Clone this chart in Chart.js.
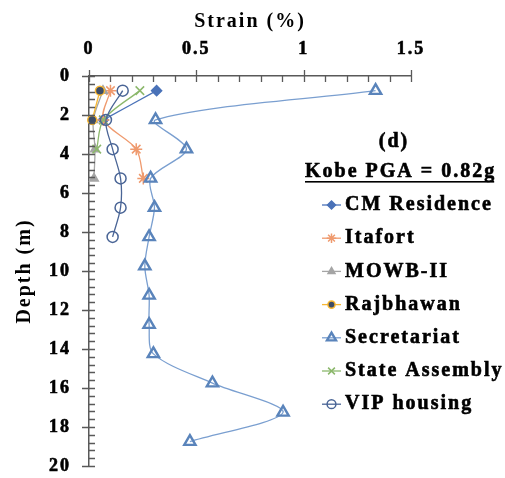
<!DOCTYPE html>
<html>
<head>
<meta charset="utf-8">
<title>Strain vs depth</title>
<script src="https://cdn.jsdelivr.net/npm/chart.js@4.4.1/dist/chart.umd.min.js"></script>
<style>
  html, body { margin: 0; padding: 0; background: #fff; }
  #wrap { width: 505px; height: 478px; }
</style>
</head>
<body>
<div id="wrap"><canvas id="strainChart" width="505" height="478"></canvas></div>
<script>
// ========== DATA ==========
// depth of each sublayer mid-point (m)
const depths = [0.75, 2.25, 3.75, 5.25, 6.75, 8.25, 9.75, 11.25, 12.75, 14.25, 15.75, 17.25, 18.75];

// peak strain (%) per site, top layer first
const cmResidence = [0.315, 0.067];
const itafort = [0.10, 0.067, 0.22, 0.253];
const mowb2 = [0.065, 0.02, 0.028, 0.023];
const rajbhawan = [0.051, 0.015];
const secretariat = [1.335, 0.31, 0.454, 0.287, 0.305, 0.28, 0.26, 0.28, 0.28, 0.30, 0.575, 0.904, 0.47];
const stateAssembly = [0.237, 0.067, 0.036];
const vipHousing = [0.157, 0.079, 0.11, 0.147, 0.147, 0.11];

const strainTicks = [0, 0.5, 1, 1.5];
const depthTicks = [0, 2, 4, 6, 8, 10, 12, 14, 16, 18, 20];

const chartHeading = "(d)";
const chartSubheading = "Kobe PGA = 0.82g";

// ========== STYLE ==========
const FONT = "'Liberation Serif', 'Times New Roman', serif";
const AXIS_COLOR = "#595959";
const TEXT_STROKE = 0.6; // thickens the bold serif a bit

const toPoints = (values) => values.map((v, i) => ({ x: v, y: depths[i] }));

const makeSeries = (label, values, style) => ({
  label,
  data: toPoints(values),
  showLine: true,
  tension: 0.3,
  borderWidth: 1.3,
  pointBorderWidth: 1.5,
  pointRadius: 5,
  clip: false,
  ...style,
});

const datasets = [
  makeSeries("CM Residence", cmResidence, {
    borderColor: "#4a72b8", backgroundColor: "#4a72b8",
    pointStyle: "rectRot", pointRadius: 5,
  }),
  makeSeries("Itafort", itafort, {
    borderColor: "#ef9a6e", backgroundColor: "#ef9a6e",
    pointStyle: "star", pointRadius: 6,
  }),
  makeSeries("MOWB-II", mowb2, {
    borderColor: "#a5a5a5", backgroundColor: "#a5a5a5",
    pointStyle: "triangle", pointRadius: 5,
  }),
  makeSeries("Rajbhawan", rajbhawan, {
    borderColor: "#f7b733", backgroundColor: "#3d4c66",
    pointBorderColor: "#f7b733", pointBackgroundColor: "#3d4c66",
    pointStyle: "circle", pointRadius: 4.5,
  }),
  makeSeries("Secretariat", secretariat, {
    borderColor: "#7a9fd0", backgroundColor: "rgba(255,255,255,0)",
    pointBorderColor: "#5a84bb", pointBackgroundColor: "rgba(255,255,255,0)",
    pointStyle: "triangle", pointRadius: 6.5, pointBorderWidth: 2.4,
  }),
  makeSeries("State Assembly", stateAssembly, {
    borderColor: "#8cb86c", backgroundColor: "#8cb86c",
    pointStyle: "crossRot", pointRadius: 6,
  }),
  makeSeries("VIP housing", vipHousing, {
    borderColor: "#4a6596", backgroundColor: "rgba(255,255,255,0)",
    pointBorderColor: "#4a6596", pointBackgroundColor: "rgba(255,255,255,0)",
    pointStyle: "circle", pointRadius: 5.5,
  }),
];

// later series sit on top, like the source spreadsheet
datasets.forEach((ds, i) => { ds.order = datasets.length - i; });

// ========== PLUGINS ==========
// the labels are drawn with a little tracking
const letterSpacing = {
  id: "letterSpacing",
  beforeUpdate(chart) { chart.ctx.letterSpacing = "2px"; },
  beforeDraw(chart) { chart.ctx.letterSpacing = "2px"; },
};

// major and minor tick marks on both axes
const axisTicks = {
  id: "axisTicks",
  afterDraw(chart) {
    const { ctx, scales: { x, y } } = chart;
    ctx.save();
    ctx.strokeStyle = AXIS_COLOR;
    ctx.lineWidth = 1.3;
    ctx.beginPath();
    for (let i = 0; i <= 15; i++) {
      const px = Math.round(x.getPixelForValue(i * 0.1)) + 0.5;
      const major = i % 5 === 0;
      ctx.moveTo(px, x.bottom - (major ? 6 : 0));
      ctx.lineTo(px, x.bottom + 6);
    }
    for (let i = 0; i <= 50; i++) {
      const py = Math.round(y.getPixelForValue(i * 0.4)) + 0.5;
      const major = i % 5 === 0;
      ctx.moveTo(y.right - (major ? 7 : 0), py);
      ctx.lineTo(y.right + 6, py);
    }
    ctx.stroke();
    ctx.restore();
  },
};

const boldText = (ctx, text, x, y) => {
  ctx.fillText(text, x, y);
  ctx.strokeText(text, x, y);
};

// heading and legend inside the plot, on the right
const sideLegend = {
  id: "sideLegend",
  afterDraw(chart) {
    const ctx = chart.ctx;
    ctx.save();
    ctx.letterSpacing = "2px";
    ctx.font = `bold 20px ${FONT}`;
    ctx.textBaseline = "middle";
    ctx.textAlign = "center";
    ctx.fillStyle = "#000";
    ctx.strokeStyle = "#000";
    ctx.lineWidth = TEXT_STROKE;
    boldText(ctx, chartHeading, 394, 142);

    ctx.textAlign = "left";
    boldText(ctx, chartSubheading, 305, 172);
    const w = ctx.measureText(chartSubheading).width;
    ctx.fillRect(305, 181, w - 2, 1.6);

    chart.data.datasets.forEach((ds, i) => {
      const yy = 205 + i * 33.2;
      ctx.strokeStyle = ds.borderColor;
      ctx.lineWidth = 1.3;
      ctx.beginPath();
      ctx.moveTo(322, yy);
      ctx.lineTo(341, yy);
      ctx.stroke();

      ctx.fillStyle = ds.pointBackgroundColor || ds.backgroundColor;
      ctx.strokeStyle = ds.pointBorderColor || ds.borderColor;
      ctx.lineWidth = ds.pointBorderWidth;
      Chart.helpers.drawPoint(ctx, {
        pointStyle: ds.pointStyle,
        radius: ds.pointRadius * 0.8,
        rotation: 0,
        borderWidth: ds.pointBorderWidth,
      }, 331.5, yy);

      ctx.fillStyle = "#000";
      ctx.strokeStyle = "#000";
      ctx.lineWidth = TEXT_STROKE;
      boldText(ctx, ds.label, 345, yy);
    });
    ctx.restore();
  },
};

const tickFont = { family: FONT, size: 18, weight: "bold" };
const titleFont = { family: FONT, size: 20, weight: "bold" };

// ========== CHART ==========
new Chart(document.getElementById("strainChart"), {
  type: "scatter",
  data: { datasets },
  options: {
    responsive: false,
    animation: false,
    layout: { padding: { left: 0, top: 0, right: 94, bottom: 12 } },
    plugins: { legend: { display: false }, tooltip: { enabled: false } },
    scales: {
      x: {
        position: "top",
        min: 0,
        max: 1.5,
        afterFit: (scale) => {
          scale.height = 76;
          scale.paddingLeft = 0;
          scale.paddingRight = 0;
        },
        afterBuildTicks: (scale) => { scale.ticks = strainTicks.map((value) => ({ value })); },
        grid: { display: false, drawTicks: false },
        border: { display: true, color: AXIS_COLOR, width: 1.5 },
        ticks: {
          autoSkip: false,
          maxRotation: 0,
          padding: 16,
          color: "#000",
          textStrokeColor: "#000",
          textStrokeWidth: TEXT_STROKE,
          font: tickFont,
          callback: (v) => String(v),
        },
        title: {
          display: true,
          text: "Strain (%)",
          color: "#000",
          padding: { top: 10, bottom: 0 },
          font: titleFont,
        },
      },
      y: {
        reverse: true,
        min: 0,
        max: 20,
        afterFit: (scale) => {
          scale.width = 89;
          scale.paddingTop = 0;
          scale.paddingBottom = 0;
        },
        afterBuildTicks: (scale) => { scale.ticks = depthTicks.map((value) => ({ value })); },
        grid: { display: false, drawTicks: false },
        border: { display: true, color: AXIS_COLOR, width: 1.5 },
        ticks: {
          autoSkip: false,
          padding: 18,
          color: "#000",
          textStrokeColor: "#000",
          textStrokeWidth: TEXT_STROKE,
          font: tickFont,
          callback: (v) => String(v),
        },
        title: {
          display: true,
          text: "Depth (m)",
          color: "#000",
          padding: { top: 13, bottom: 0 },
          font: titleFont,
        },
      },
    },
  },
  plugins: [letterSpacing, axisTicks, sideLegend],
});
</script>
</body>
</html>
